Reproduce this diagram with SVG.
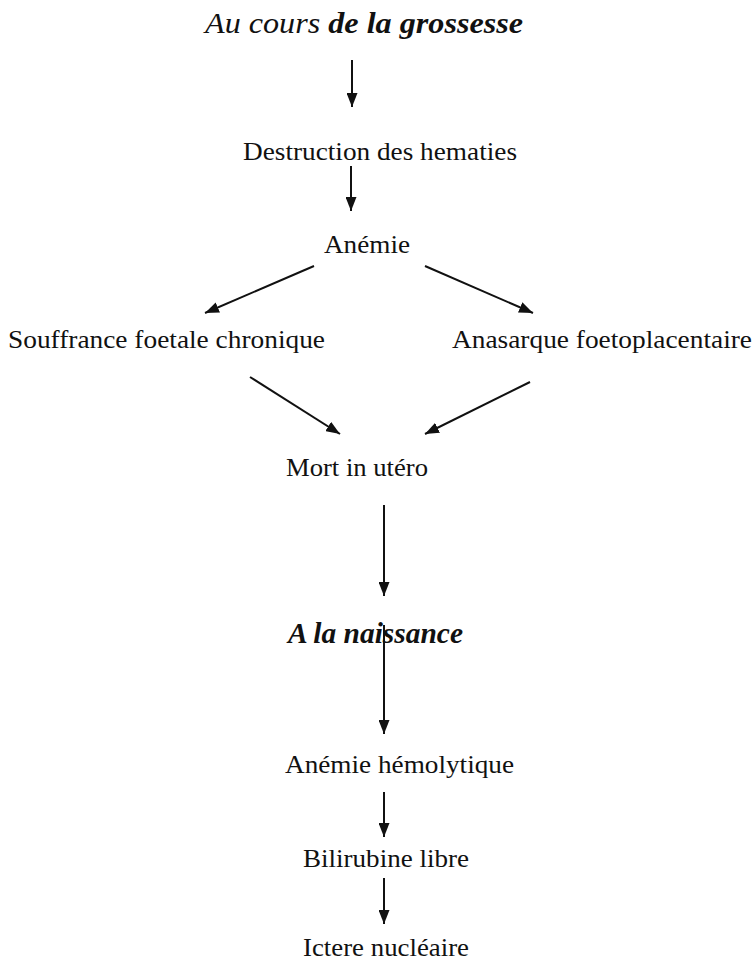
<svg xmlns="http://www.w3.org/2000/svg" width="756" height="969" viewBox="0 0 756 969">
<style>
.t{font-family:"Liberation Serif","Times New Roman",serif;font-size:26px;fill:#111;text-anchor:start}
.h{font-family:"Liberation Serif","Times New Roman",serif;font-size:29px;font-style:italic;fill:#111;text-anchor:start}
.c line{stroke:#111;stroke-width:2;marker-end:url(#ah)}
</style>
<defs>
<marker id="ah" viewBox="0 0 10 10" refX="10" refY="5" markerWidth="14" markerHeight="11" markerUnits="userSpaceOnUse" orient="auto" preserveAspectRatio="none">
<path d="M0,0 L10,5 L0,10 z" fill="#111"/>
</marker>
</defs>
<rect width="756" height="969" fill="#fff"/>
<g id="n-title"><text class="h" x="205" y="33" textLength="318" lengthAdjust="spacingAndGlyphs">Au cours <tspan font-weight="bold">de la grossesse</tspan></text></g>
<g id="n-destruction"><text class="t" x="243" y="160" textLength="274" lengthAdjust="spacingAndGlyphs">Destruction des hematies</text></g>
<g id="n-anemie"><text class="t" x="324" y="253" textLength="86" lengthAdjust="spacingAndGlyphs">Anémie</text></g>
<g id="n-souffrance"><text class="t" x="8" y="348" textLength="317" lengthAdjust="spacingAndGlyphs">Souffrance foetale chronique</text></g>
<g id="n-anasarque"><text class="t" x="452" y="348" textLength="300" lengthAdjust="spacingAndGlyphs">Anasarque foetoplacentaire</text></g>
<g id="n-mort"><text class="t" x="286" y="476" textLength="142" lengthAdjust="spacingAndGlyphs">Mort in utéro</text></g>
<g id="n-naissance"><text class="h" x="288" y="643" font-weight="bold" textLength="175" lengthAdjust="spacingAndGlyphs">A la naissance</text></g>
<g id="n-hemolytique"><text class="t" x="285" y="773" textLength="229" lengthAdjust="spacingAndGlyphs">Anémie hémolytique</text></g>
<g id="n-bilirubine"><text class="t" x="303" y="867" textLength="166" lengthAdjust="spacingAndGlyphs">Bilirubine libre</text></g>
<g id="n-ictere"><text class="t" x="303" y="956" textLength="166" lengthAdjust="spacingAndGlyphs">Ictere nucléaire</text></g>
<g class="c" id="connectors">
<line x1="352" y1="60" x2="352" y2="107"/>
<line x1="351" y1="166" x2="351" y2="211"/>
<line x1="314" y1="266" x2="205" y2="313"/>
<line x1="425" y1="266" x2="533" y2="313"/>
<line x1="250" y1="377" x2="340" y2="434"/>
<line x1="530" y1="382" x2="425" y2="434"/>
<line x1="384" y1="505" x2="384" y2="596"/>
<line x1="384" y1="625" x2="384" y2="734"/>
<line x1="384" y1="792" x2="384" y2="837"/>
<line x1="384" y1="878" x2="384" y2="924"/>
</g>
</svg>
